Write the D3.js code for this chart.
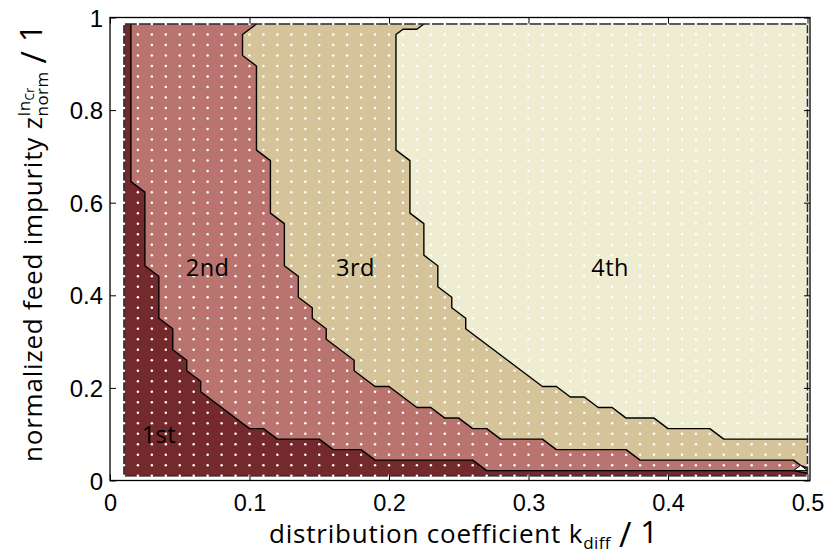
<!DOCTYPE html>
<html>
<head>
<meta charset="utf-8">
<script src="https://cdn.jsdelivr.net/npm/d3@7"></script>
<style>
  html, body { margin: 0; padding: 0; background: #fff; }
  svg { display: block; }
</style>
</head>
<body>
<svg id="chart" width="831" height="556"></svg>
<script>
// ---- sampling grid of the stage map ----
const kGrid = [0.01, 0.02, 0.03, 0.04, 0.05, 0.06, 0.07, 0.08, 0.09, 0.10,
               0.11, 0.12, 0.13, 0.14, 0.15, 0.16, 0.17, 0.18, 0.19, 0.20,
               0.21, 0.22, 0.23, 0.24, 0.25, 0.26, 0.27, 0.28, 0.29, 0.30,
               0.31, 0.32, 0.33, 0.34, 0.35, 0.36, 0.37, 0.38, 0.39, 0.40,
               0.41, 0.42, 0.43, 0.44, 0.45, 0.46, 0.47, 0.48, 0.49, 0.50];
const zGrid = [0.0100, 0.0327, 0.0554, 0.0781, 0.1008, 0.1235, 0.1462, 0.1689, 0.1916, 0.2143,
               0.2370, 0.2597, 0.2823, 0.3050, 0.3277, 0.3504, 0.3731, 0.3958, 0.4185, 0.4412,
               0.4639, 0.4866, 0.5093, 0.5320, 0.5547, 0.5774, 0.6001, 0.6228, 0.6455, 0.6682,
               0.6909, 0.7136, 0.7363, 0.7590, 0.7817, 0.8044, 0.8271, 0.8498, 0.8725, 0.8952,
               0.9179, 0.9406, 0.9633, 0.9860];

// For every grid row (bottom to top): how many columns, counted from the
// smallest k, need at most 1, 2 or 3 crystallization stages.
const upTo1 = [50, 26, 18, 15, 11, 9, 8, 7, 6, 6,
               5, 5, 4, 4, 4, 3, 3, 3, 3, 3,
               2, 2, 2, 2, 2, 2, 2, 2, 1, 1,
               1, 1, 1, 1, 1, 1, 1, 1, 1, 1,
               1, 1, 1, 1];
const upTo2 = [50, 49, 37, 31, 27, 25, 23, 21, 20, 18,
               17, 17, 16, 15, 15, 14, 14, 13, 13, 13,
               12, 12, 12, 12, 12, 11, 11, 11, 11, 11,
               11, 10, 10, 10, 10, 10, 10, 10, 10, 10,
               9, 9, 9, 10];
const upTo3 = [50, 50, 50, 50, 43, 39, 36, 34, 32, 30,
               29, 28, 27, 26, 25, 25, 24, 24, 23, 23,
               23, 22, 22, 22, 22, 21, 21, 21, 21, 21,
               21, 20, 20, 20, 20, 20, 20, 20, 20, 20,
               20, 20, 20, 22];

const stageNames  = ["1st", "2nd", "3rd", "4th"];
const stageColors = ["#74292c", "#b9746f", "#d5c39a", "#eeedd1"];
// label anchors (k, z) of the stage names
const stageLabelK = [0.0227, 0.0543, 0.162, 0.345];
const stageLabelZ = [0.081, 0.442, 0.442, 0.442];

const xTicks = [0, 0.1, 0.2, 0.3, 0.4, 0.5];
const yTicks = [0, 0.2, 0.4, 0.6, 0.8, 1];
const xTickLabels = ["0", "0.1", "0.2", "0.3", "0.4", "0.5"];
const yTickLabels = ["0", "0.2", "0.4", "0.6", "0.8", "1"];

// ---- layout ----
const box = { left: 110, right: 810, top: 17.5, bottom: 480.5 };
const svg = d3.select("#chart");
const TEXT_FONT = "'Open Sans', 'Noto Sans', sans-serif";
const TEXT_WEIGHT = 370;
const TICK_FONT = "'Liberation Sans', Arial, sans-serif";

const x = d3.scaleLinear().domain([0, 0.5018]).range([box.left, box.right]);
const y = d3.scaleLinear().domain([0, 1]).range([box.bottom, box.top]);

const nx = kGrid.length, ny = zGrid.length;

// stage number at every grid node
const stageMap = [];
for (let j = 0; j < ny; j++) {
  for (let i = 0; i < nx; i++) {
    stageMap.push(i < upTo1[j] ? 1 : i < upTo2[j] ? 2 : i < upTo3[j] ? 3 : 4);
  }
}

const bands = d3.contours().size([nx, ny]).thresholds([1.5, 2.5, 3.5])(stageMap);

// grid coordinates of d3.contours -> data -> pixels
const gk = d3.scaleLinear().domain([0.5, nx - 0.5]).range([kGrid[0], kGrid[nx - 1]]);
const gz = d3.scaleLinear().domain([0.5, ny - 0.5]).range([zGrid[0], zGrid[ny - 1]]);
const toScreen = d3.geoTransform({
  point(px, py) { this.stream.point(x(gk(px)), y(gz(py))); }
});
const path = d3.geoPath(toScreen);

const gx0 = x(kGrid[0]), gx1 = x(kGrid[nx - 1]);
const gy0 = y(zGrid[ny - 1]), gy1 = y(zGrid[0]);

svg.append("defs").append("clipPath").attr("id", "gridClip")
  .append("rect").attr("x", gx0).attr("y", gy0)
  .attr("width", gx1 - gx0).attr("height", gy1 - gy0);

const plot = svg.append("g").attr("clip-path", "url(#gridClip)");

// lowest stage fills the whole sampled rectangle
plot.append("rect")
  .attr("x", gx0).attr("y", gy0)
  .attr("width", gx1 - gx0).attr("height", gy1 - gy0)
  .attr("fill", stageColors[0]);

plot.selectAll("path.band")
  .data(bands)
  .join("path")
  .attr("class", "band")
  .attr("d", path)
  .attr("fill", (d, i) => stageColors[i + 1])
  .attr("stroke", "none");

plot.selectAll("path.iso")
  .data(bands)
  .join("path")
  .attr("class", "iso")
  .attr("d", path)
  .attr("fill", "none")
  .attr("stroke", "#000")
  .attr("stroke-width", 1.4)
  .attr("stroke-linejoin", "round");

// unfilled corner cell at the lower right of the map
const gapCell = [[48.5, 1], [49, 1.5], [49.5, 1]];
plot.append("path")
  .attr("d", d3.line().x(p => x(gk(p[0]))).y(p => y(gz(p[1])))(gapCell) + "Z")
  .attr("fill", "#fff")
  .attr("stroke", "#000")
  .attr("stroke-width", 1);

// border of the sampled region
svg.append("rect")
  .attr("x", gx0).attr("y", gy0)
  .attr("width", gx1 - gx0).attr("height", gy1 - gy0)
  .attr("fill", "none")
  .attr("stroke", "#2a2a2a")
  .attr("stroke-width", 1.5);

// grid nodes
const nodes = [];
zGrid.forEach(z => kGrid.forEach(k => nodes.push([k, z])));
svg.append("g")
  .selectAll("circle")
  .data(nodes)
  .join("circle")
  .attr("cx", d => x(d[0]))
  .attr("cy", d => y(d[1]))
  .attr("r", 1.25)
  .attr("fill", "#fff");

// stage labels
svg.append("g")
  .selectAll("text")
  .data(stageNames)
  .join("text")
  .attr("x", (d, i) => x(stageLabelK[i]))
  .attr("y", (d, i) => y(stageLabelZ[i]))
  .style("font-family", TEXT_FONT)
  .style("font-weight", TEXT_WEIGHT)
  .style("font-size", "23.5px")
  .style("letter-spacing", "0.5px")
  .attr("fill", "#000")
  .text(d => d);

// ---- axes box with inward ticks ----
const axes = svg.append("g");
axes.append("rect")
  .attr("x", box.left).attr("y", box.top)
  .attr("width", box.right - box.left).attr("height", box.bottom - box.top)
  .attr("fill", "none").attr("stroke", "#000").attr("stroke-width", 1.3);

const tickLen = 6;
function inwardTicks(axisGen, tx, ty) {
  axes.append("g").attr("transform", `translate(${tx},${ty})`)
    .call(axisGen.tickSize(tickLen).tickFormat(""))
    .call(g => g.select(".domain").remove())
    .call(g => g.selectAll(".tick line").attr("stroke", "#000").attr("stroke-width", 1));
}
inwardTicks(d3.axisTop(x).tickValues(xTicks), 0, box.bottom);
inwardTicks(d3.axisBottom(x).tickValues(xTicks), 0, box.top);
inwardTicks(d3.axisRight(y).tickValues(yTicks), box.left, 0);
inwardTicks(d3.axisLeft(y).tickValues(yTicks), box.right, 0);

// tick labels
const xl = axes.append("g").attr("transform", `translate(0,${box.bottom})`)
  .call(d3.axisBottom(x).tickValues(xTicks).tickSize(0).tickPadding(0)
    .tickFormat((d, i) => xTickLabels[i]));
xl.select(".domain").remove();
xl.selectAll("text")
  .style("font-family", TICK_FONT)
  .style("font-size", "23.5px")
  .attr("fill", "#000")
  .attr("dy", null).attr("y", 30.5);

const yl = axes.append("g").attr("transform", `translate(${box.left},0)`)
  .call(d3.axisLeft(y).tickValues(yTicks).tickSize(0).tickPadding(0)
    .tickFormat((d, i) => yTickLabels[i]));
yl.select(".domain").remove();
yl.selectAll("text")
  .style("font-family", TICK_FONT)
  .style("font-size", "24px")
  .attr("fill", "#000")
  .attr("x", -7).attr("dy", "0.36em");

// ---- axis titles laid out piece by piece (text, indices, "/ 1") ----
function layoutTitle(g, pieces) {
  let cursor = 0, blockStart = 0;
  pieces.forEach(p => {
    const el = g.append("text")
      .style("font-family", TEXT_FONT)
      .style("font-weight", TEXT_WEIGHT)
      .style("font-size", p.size + "px")
      .style("letter-spacing", (p.track || 0) + "px")
      .attr("fill", "#000")
      .attr("y", p.dy || 0)
      .text(p.t);
    const w = el.node().getComputedTextLength();
    const px = p.stack ? blockStart : cursor + (p.pre || 0);
    if (p.block) blockStart = px;
    el.attr("x", px);
    cursor = Math.max(cursor, px + w);
  });
  return cursor;
}

const xTitle = svg.append("g");
layoutTitle(xTitle, [
  { t: "distribution coefficient k", size: 26, track: 0.8 },
  { t: "diff", size: 17, dy: 6, pre: 0, track: 0.4 },
  { t: "/", size: 34, dy: 4, pre: 8 },
  { t: "1", size: 31, pre: 9 }
]);
xTitle.attr("transform", `translate(269,543)`);

const yTitle = svg.append("g");
layoutTitle(yTitle, [
  { t: "normalized feed impurity z", size: 26, track: 0.8 },
  { t: "In", size: 17, dy: -12, pre: 0, block: true, track: 0.4 },
  { t: "Cr", size: 12, dy: -8 },
  { t: "norm", size: 17, dy: 6, stack: true, track: 0.4 },
  { t: "/", size: 34, dy: 4, pre: 8 },
  { t: "1", size: 31, pre: 9 }
]);
yTitle.attr("transform", `translate(42,462) rotate(-90)`);
</script>
</body>
</html>
